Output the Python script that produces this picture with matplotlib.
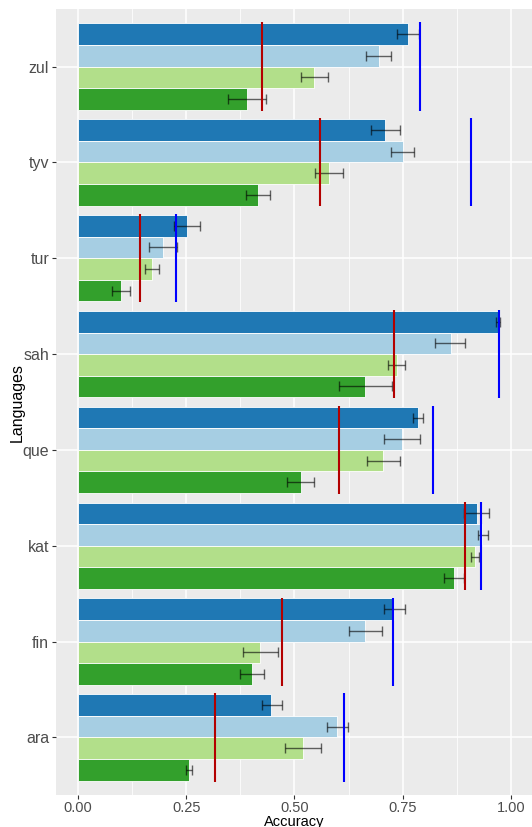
import matplotlib.pyplot as plt
import numpy as np

plt.rcParams['font.family'] = ['Liberation Sans', 'DejaVu Sans']

# languages from bottom to top
languages = ['ara', 'fin', 'kat', 'que', 'sah', 'tur', 'tyv', 'zul']

# four models, drawn top to bottom inside each group
dark_blue = [0.446, 0.730, 0.921, 0.785, 0.972, 0.251, 0.710, 0.762]
dark_blue_lo = [0.426, 0.707, 0.891, 0.773, 0.966, 0.221, 0.677, 0.737]
dark_blue_hi = [0.472, 0.755, 0.950, 0.798, 0.976, 0.281, 0.744, 0.787]

light_blue = [0.599, 0.662, 0.934, 0.749, 0.861, 0.196, 0.750, 0.695]
light_blue_lo = [0.576, 0.625, 0.924, 0.706, 0.825, 0.164, 0.723, 0.665]
light_blue_hi = [0.623, 0.703, 0.947, 0.791, 0.895, 0.229, 0.777, 0.724]

light_green = [0.519, 0.421, 0.917, 0.705, 0.737, 0.172, 0.580, 0.546]
light_green_lo = [0.479, 0.381, 0.908, 0.667, 0.717, 0.155, 0.548, 0.515]
light_green_hi = [0.562, 0.462, 0.927, 0.745, 0.756, 0.187, 0.612, 0.578]

dark_green = [0.256, 0.401, 0.869, 0.515, 0.662, 0.099, 0.415, 0.390]
dark_green_lo = [0.249, 0.374, 0.845, 0.482, 0.602, 0.079, 0.388, 0.347]
dark_green_hi = [0.264, 0.430, 0.892, 0.546, 0.726, 0.121, 0.444, 0.435]

# reference lines per language
red_ref = [0.317, 0.472, 0.895, 0.604, 0.729, 0.143, 0.560, 0.424]
blue_ref = [0.615, 0.727, 0.931, 0.820, 0.972, 0.227, 0.908, 0.790]

series = [
    (dark_blue, dark_blue_lo, dark_blue_hi, '#1F78B4'),
    (light_blue, light_blue_lo, light_blue_hi, '#A6CEE3'),
    (light_green, light_green_lo, light_green_hi, '#B2DF8A'),
    (dark_green, dark_green_lo, dark_green_hi, '#33A02C'),
]

fig = plt.figure(figsize=(5.32, 8.27), dpi=100)
ax = fig.add_axes([56 / 532, 1 - 795 / 827, 1 - 56 / 532, (795 - 9) / 827])
ax.set_facecolor('#EBEBEB')

y = np.arange(1, len(languages) + 1)
bar_h = 0.225
offsets = [1.5 * bar_h, 0.5 * bar_h, -0.5 * bar_h, -1.5 * bar_h]

for (vals, lo, hi, col), off in zip(series, offsets):
    vals = np.array(vals)
    ax.barh(y + off, vals, height=bar_h, color=col, edgecolor='white',
            linewidth=0.6, zorder=2)
    err = [vals - np.array(lo), np.array(hi) - vals]
    ax.errorbar(vals, y + off, xerr=err, fmt='none', ecolor='black',
                alpha=0.6, elinewidth=1.0, capsize=3.3, capthick=1.0, zorder=3)

ax.vlines(red_ref, y - 0.46, y + 0.46, color='#B30000', linewidth=1.5, zorder=4)
ax.vlines(blue_ref, y - 0.46, y + 0.46, color='#0000FF', linewidth=1.5, zorder=4)

ax.set_xlim(-0.051, 1.049)
ax.set_ylim(0.4, 8.6)
ax.set_xticks([0, 0.25, 0.5, 0.75, 1.0])
ax.set_xticklabels(['0.00', '0.25', '0.50', '0.75', '1.00'])
ax.set_xticks([0.125, 0.375, 0.625, 0.875], minor=True)
ax.set_yticks(y)
ax.set_yticklabels(languages)

ax.grid(True, which='major', color='white', linewidth=1.1, zorder=0)
ax.grid(True, which='minor', axis='x', color='white', linewidth=0.55, zorder=0)
ax.set_axisbelow(True)
for s in ax.spines.values():
    s.set_visible(False)

ax.tick_params(axis='x', which='major', length=3, width=0.8, color='#333333',
               labelcolor='#4D4D4D', labelsize=10.5, pad=1)
ax.tick_params(axis='y', which='major', length=3, width=0.8, color='#333333',
               labelcolor='#4D4D4D', labelsize=11.5, pad=2)
ax.tick_params(axis='both', which='minor', length=0)

ax.set_xlabel('Accuracy', fontsize=10.5, color='black', labelpad=0)
ax.set_ylabel('Languages', fontsize=11.5, color='black', labelpad=-2)

fig.savefig('out.png', dpi=100)
